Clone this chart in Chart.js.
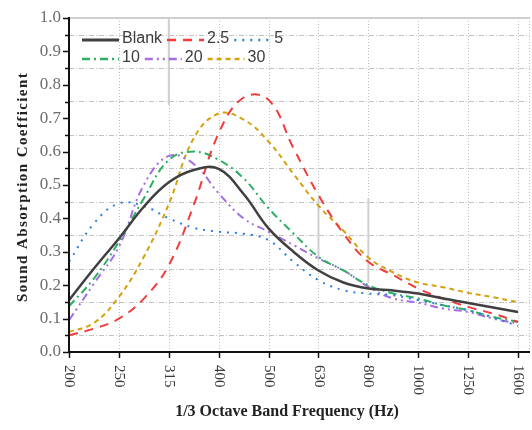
<!DOCTYPE html>
<html>
<head>
<meta charset="utf-8">
<script src="https://cdn.jsdelivr.net/npm/chart.js@4.4.1/dist/chart.umd.min.js"></script>
<style>
  body { margin: 0; background: #fff; }
  canvas { display: block; }
</style>
</head>
<body>
<canvas id="absorption" width="532" height="430"></canvas>
<script>
// 1/3 octave band centre frequencies (one axis step each)
const bandLabels = ['200', '250', '315', '400', '500', '630', '800', '1000', '1250', '1600']
// positions along the band axis where the curves were sampled
const bandPos = [0, 0.5, 1, 1.5, 2, 2.5, 3, 3.5, 4, 4.5, 5, 5.5, 6, 6.5, 7, 7.5, 8, 8.5, 9]
// labelled values on the coefficient axis
const coefLabels = ['0.0', '0.1', '0.2', '0.3', '0.4', '0.5', '0.6', '0.7', '0.8', '0.9', '1.0']

const blank = [0.155, 0.25, 0.34, 0.435, 0.508, 0.545, 0.548, 0.473, 0.37, 0.30, 0.244, 0.208, 0.19, 0.184, 0.175, 0.16, 0.147, 0.133, 0.12]
const s2p5 = [0.05, 0.07, 0.10, 0.16, 0.26, 0.44, 0.655, 0.762, 0.755, 0.61, 0.47, 0.355, 0.27, 0.23, 0.19, 0.16, 0.135, 0.115, 0.09]
const s5 = [0.27, 0.385, 0.445, 0.437, 0.40, 0.372, 0.36, 0.354, 0.335, 0.27, 0.215, 0.185, 0.175, 0.17, 0.155, 0.14, 0.125, 0.103, 0.078]
const s10 = [0.137, 0.22, 0.33, 0.46, 0.575, 0.60, 0.575, 0.52, 0.43, 0.355, 0.285, 0.244, 0.20, 0.175, 0.16, 0.14, 0.125, 0.105, 0.09]
const s20 = [0.095, 0.205, 0.315, 0.50, 0.587, 0.563, 0.475, 0.40, 0.36, 0.32, 0.28, 0.245, 0.195, 0.16, 0.148, 0.13, 0.12, 0.10, 0.085]
const s30 = [0.06, 0.087, 0.165, 0.285, 0.443, 0.64, 0.714, 0.696, 0.63, 0.533, 0.438, 0.363, 0.283, 0.238, 0.208, 0.194, 0.177, 0.164, 0.149]

const seriesNames = ['Blank', '2.5', '5', '10', '20', '30']

const toPoints = vals => bandPos.map((x, i) => ({ x: x, y: vals[i] }))

const makeSet = (label, vals, color, dash, width) => ({
  label: label,
  data: toPoints(vals),
  borderColor: color,
  backgroundColor: color,
  borderDash: dash,
  borderWidth: width,
  pointRadius: 0,
  tension: 0.4,
  fill: false
})

const datasets = [
  makeSet(seriesNames[0], blank, '#404040', [], 2.5),
  makeSet(seriesNames[1], s2p5, '#f23c3c', [9, 7], 2),
  makeSet(seriesNames[2], s5, '#2a7fe0', [2, 6], 2),
  makeSet(seriesNames[3], s10, '#2fae64', [8, 4, 2, 4], 2),
  makeSet(seriesNames[4], s20, '#a56ee3', [8, 4, 2, 4, 2, 4], 2),
  makeSet(seriesNames[5], s30, '#d6a10e', [5, 4], 2)
]

const SERIF = '"Liberation Serif", "Times New Roman", serif'

function strokeLine (ctx, x1, y1, x2, y2) {
  ctx.beginPath()
  ctx.moveTo(x1, y1)
  ctx.lineTo(x2, y2)
  ctx.stroke()
}

// grid, frame, axes, titles and the in-plot legend
const decor = {
  id: 'decor',
  beforeDatasetsDraw (chart) {
    const { ctx, chartArea: a, scales: { x, y } } = chart
    ctx.save()
    ctx.lineWidth = 1
    ctx.strokeStyle = '#c2c2c2'
    // dash-dot lines between the labelled values
    ctx.setLineDash([5, 2, 1, 2])
    for (let k = 0; k < 10; k++) {
      const py = Math.round(y.getPixelForValue(0.05 + k * 0.1)) + 0.5
      strokeLine(ctx, a.left, py, a.right, py)
    }
    // dotted lines at every band
    ctx.setLineDash([1, 2])
    bandLabels.forEach((_, i) => {
      const px = Math.round(x.getPixelForValue(i)) + 0.5
      strokeLine(ctx, px, a.top, px, a.bottom)
    })
    strokeLine(ctx, a.right - 0.5, a.top, a.right - 0.5, a.bottom)
    // solid grey marks left on a few band lines
    ctx.setLineDash([])
    ctx.strokeStyle = '#cfcfcf'
    ctx.lineWidth = 2
    ;[[2, 1.0, 0.74], [5, 0.46, 0.275], [6, 0.46, 0.21]].forEach(([i, v1, v2]) => {
      const px = x.getPixelForValue(i)
      strokeLine(ctx, px, y.getPixelForValue(v1), px, y.getPixelForValue(v2))
    })
    // top frame
    strokeLine(ctx, a.left, a.top, a.right, a.top)
    ctx.restore()
  },
  afterDatasetsDraw (chart) {
    const { ctx, chartArea: a, scales: { x, y } } = chart
    ctx.save()
    ctx.setLineDash([])
    ctx.strokeStyle = '#111'
    ctx.lineWidth = 2
    strokeLine(ctx, a.left, a.top - 1, a.left, a.bottom + 1)
    strokeLine(ctx, a.left - 1, a.bottom, a.right, a.bottom)
    // tick marks
    ctx.lineWidth = 1.5
    for (let k = 0; k <= 20; k++) {
      const py = Math.round(y.getPixelForValue(k * 0.05)) + 0.5
      strokeLine(ctx, a.left - (k % 2 === 0 ? 6 : 4), py, a.left, py)
    }
    bandLabels.forEach((lab, i) => {
      const px = Math.round(x.getPixelForValue(i)) + 0.5
      strokeLine(ctx, px, a.bottom, px, a.bottom + 6)
    })
    // coefficient labels
    ctx.fillStyle = '#6e6e6e'
    ctx.font = '17px ' + SERIF
    ctx.textAlign = 'right'
    ctx.textBaseline = 'middle'
    coefLabels.forEach(lab => {
      ctx.fillText(lab, a.left - 8, y.getPixelForValue(Number(lab)))
    })
    // band labels, turned a quarter clockwise
    ctx.fillStyle = '#3a3a3a'
    ctx.font = '15px ' + SERIF
    ctx.textAlign = 'left'
    bandLabels.forEach((lab, i) => {
      ctx.save()
      ctx.translate(x.getPixelForValue(i), a.bottom + 13)
      ctx.rotate(Math.PI / 2)
      ctx.fillText(lab, 0, 0)
      ctx.restore()
    })
    // axis titles
    ctx.fillStyle = '#222'
    ctx.textAlign = 'center'
    ctx.font = 'bold 16px ' + SERIF
    ctx.fillText('1/3 Octave Band Frequency (Hz)', 287, 412)
    ctx.save()
    ctx.translate(23, 187)
    ctx.rotate(-Math.PI / 2)
    ctx.font = 'bold 15px ' + SERIF
    ctx.letterSpacing = '1.4px'
    ctx.fillText('Sound Absorption Coefficient', 0, 0)
    ctx.restore()
    // legend, three entries per row
    ctx.font = '16px "Liberation Sans", Arial, sans-serif'
    ctx.textAlign = 'left'
    ctx.fillStyle = '#3c3c3c'
    const rowY = [40, 59]
    let lx = 82
    chart.data.datasets.forEach((ds, i) => {
      if (i % 3 === 0) lx = 82
      const ly = rowY[Math.floor(i / 3)]
      ctx.strokeStyle = ds.borderColor
      ctx.lineWidth = ds.borderWidth + 0.5
      ctx.setLineDash(ds.borderDash)
      strokeLine(ctx, lx, ly, lx + 37, ly)
      ctx.setLineDash([])
      ctx.fillText(ds.label, lx + 40, ly - 1)
      lx += 40 + ctx.measureText(ds.label).width + 5
    })
    ctx.restore()
  }
}

new Chart(document.getElementById('absorption'), {
  type: 'line',
  data: { datasets: datasets },
  options: {
    responsive: false,
    animation: false,
    layout: { padding: { top: 18, right: 2, left: 0, bottom: 0 } },
    plugins: { legend: { display: false }, tooltip: { enabled: false } },
    scales: {
      x: {
        type: 'linear',
        min: 0,
        max: 9.24,
        ticks: { display: false },
        grid: { display: false },
        border: { display: false },
        afterFit: scale => { scale.height = 78 }
      },
      y: {
        min: 0,
        max: 1,
        ticks: { display: false },
        grid: { display: false },
        border: { display: false },
        afterFit: scale => { scale.width = 69 }
      }
    }
  },
  plugins: [decor]
})
</script>
</body>
</html>
